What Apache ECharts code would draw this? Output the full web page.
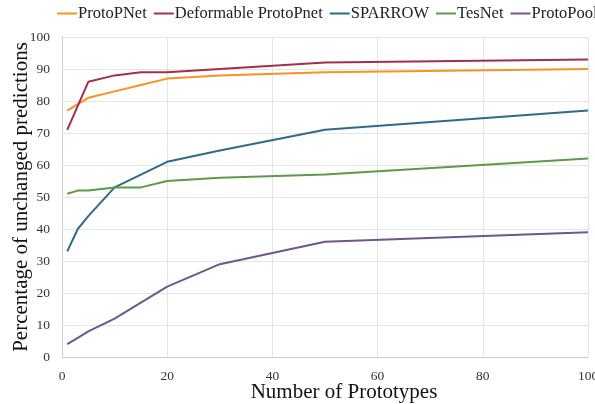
<!DOCTYPE html>
<html>
<head>
<meta charset="utf-8">
<script src="https://cdn.jsdelivr.net/npm/echarts@6/dist/echarts.min.js"></script>
<style>html,body{margin:0;padding:0;background:#fff;}#chart{width:595px;height:404px;}</style>
</head>
<body>
<div id="chart"></div>
<script>
var xValues = [1, 3, 5, 10, 15, 20, 30, 50, 100];
var protoPNet = [77, 79, 81, 83, 85, 87, 88, 89, 90];
var deformableProtoPnet = [71, 78.5, 86, 88, 89, 89, 90, 92, 93];
var sparrow = [33, 40, 44, 53, 57, 61, 64.5, 71, 77];
var tesNet = [51, 52, 52, 53, 53, 55, 56, 57, 62];
var protoPool = [4, 6, 8, 12, 17, 22, 29, 36, 39];
var seriesNames = ['ProtoPNet', 'Deformable ProtoPnet', 'SPARROW', 'TesNet', 'ProtoPool'];
var seriesValues = [protoPNet, deformableProtoPnet, sparrow, tesNet, protoPool];
var colors = ['#F7931E', '#A3304A', '#2E6A8E', '#5C9A48', '#6E578C'];

var font = 'Liberation Serif';
function pairs(ys) { return xValues.map(function (x, i) { return [x, ys[i]]; }); }

var chart = echarts.init(document.getElementById('chart'), null, {renderer: 'canvas'});
chart.setOption({
  animation: false,
  backgroundColor: '#ffffff',
  color: colors,
  legend: {
    top: 5, left: 57, width: 620, padding: 0,
    icon: 'rect', itemWidth: 20, itemHeight: 2, itemGap: 7,
    textStyle: {fontFamily: font, fontSize: 16.5, color: '#222', padding: [0, 0, 0, -4]},
    data: seriesNames
  },
  grid: {left: 62, right: 7, top: 37, bottom: 47, containLabel: false, outerBoundsMode: 'none'},
  xAxis: {
    type: 'value', min: 0, max: 100, interval: 20,
    name: 'Number of Prototypes', nameLocation: 'middle', nameGap: 25, nameMoveOverlap: false,
    nameTextStyle: {fontFamily: font, fontSize: 21, color: '#111', padding: [0, 0, 0, 38]},
    axisLine: {show: true, lineStyle: {color: '#cfcfcf', width: 1}},
    axisTick: {show: false},
    axisLabel: {fontFamily: font, fontSize: 13.5, color: '#333', margin: 12},
    splitLine: {show: true, lineStyle: {color: '#e4e4e4', width: 1}}
  },
  yAxis: {
    type: 'value', min: 0, max: 100, interval: 10,
    name: 'Percentage of unchanged predictions', nameLocation: 'middle', nameGap: 30, nameMoveOverlap: false,
    nameTextStyle: {fontFamily: font, fontSize: 21, color: '#111'},
    axisLine: {show: true, lineStyle: {color: '#cfcfcf', width: 1}},
    axisTick: {show: false},
    axisLabel: {fontFamily: font, fontSize: 13.5, color: '#333', margin: 12},
    splitLine: {show: true, lineStyle: {color: '#e4e4e4', width: 1}}
  },
  series: seriesNames.map(function (n, i) {
    return {
      name: n, type: 'line', data: pairs(seriesValues[i]),
      symbol: 'none', showSymbol: false,
      lineStyle: {width: 2, color: colors[i]},
      itemStyle: {color: colors[i]}
    };
  })
});
</script>
</body>
</html>
